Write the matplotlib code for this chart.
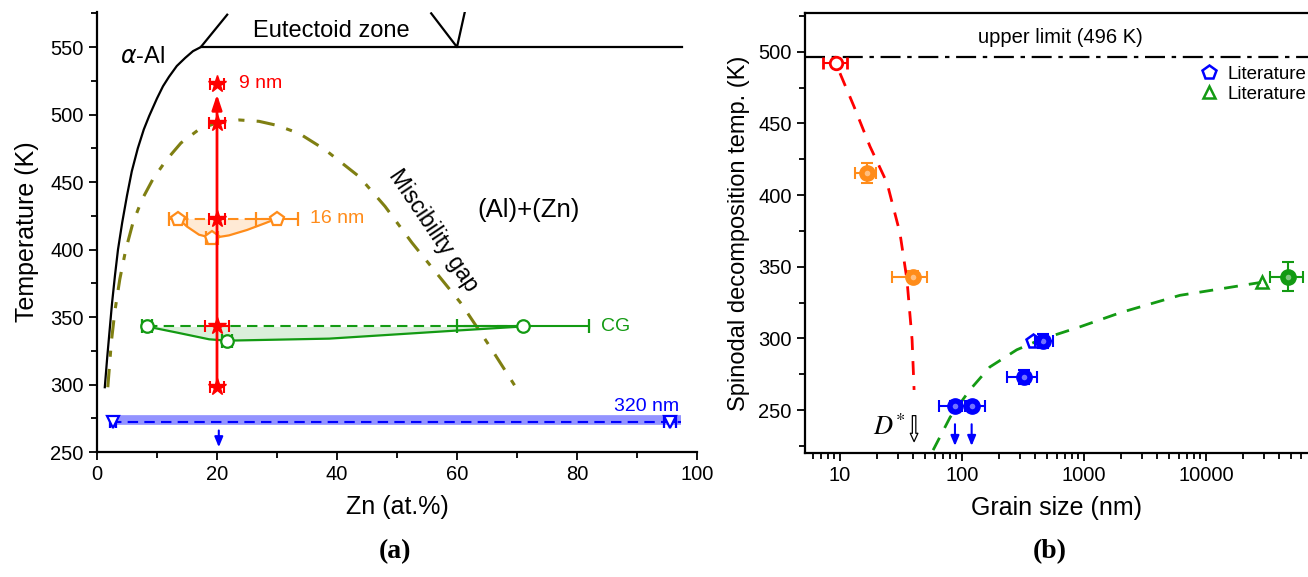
import numpy as np
import matplotlib
matplotlib.use("Agg")
import matplotlib.pyplot as plt
from matplotlib.ticker import MultipleLocator, LogLocator, FixedLocator, FixedFormatter, NullFormatter
from matplotlib.lines import Line2D

plt.rcParams['font.family'] = ['Liberation Sans', 'DejaVu Sans']
plt.rcParams['mathtext.fontset'] = 'stix'

# ---------------- Panel (a) data ----------------
solvus_zn = [1.3, 1.7, 2.1, 2.5, 3.0, 3.5, 4.2, 5.0, 5.8, 6.8, 7.8, 8.7, 10.0, 11.0, 12.0,
             13.3, 14.7, 16.0, 17.3, 21.7]
solvus_T = [298, 320, 340, 360, 381, 400, 420, 440, 458, 475, 489, 499, 512, 521, 528,
            536, 542, 547, 550, 574]
eutectoid_zn = [17.3, 97.5]
eutectoid_T = [550, 550]
vee_zn = [55.7, 60.0, 61.3]
vee_T = [575, 550, 576]
gap_zn = [1.8, 2.1, 2.4, 3.0, 3.8, 4.8, 6.0, 7.5, 9.3, 11.5, 14.0, 17.0, 20.0, 23.7, 27.0,
          30.0, 33.7, 38.0, 43.7, 48.0, 52.5, 56.5, 60.7, 65.5, 69.8]
gap_T = [298, 315, 332, 355, 378, 400, 420, 437, 452, 466, 479, 489, 494, 496, 495,
         492, 486, 474, 454, 432, 405, 383, 360, 328, 298]

red_zn = [20.0, 20.0, 20.0, 20.0, 20.0]
red_T = [523, 494, 423, 343, 298]
red_xerr = [1.2, 1.3, 1.3, 2.0, 1.2]

or_zn = [13.5, 19.2, 30.0]
or_T = [423, 408.5, 423]
or_xerr = [1.5, 1.0, 3.5]
or_curve_zn = [13.5, 15.0, 17.0, 19.2, 22.0, 25.0, 28.0, 30.0]
or_curve_T = [423, 417, 411, 408.5, 410.5, 414.5, 419.5, 423]

gr_zn = [8.3, 21.7, 71.0]
gr_T = [343, 332.5, 343]
gr_xerr = [0.8, 0.8, 11.0]
gr_curve_zn = [8.3, 13.3, 18.7, 21.7, 38.7, 60.0, 71.0]
gr_curve_T = [343, 338.5, 333.5, 332.5, 334.0, 340.0, 343]

bl_zn = [2.7, 95.5]
bl_T = [272, 272]
bl_xerr = [0.5, 1.0]
bl_band_zn = [2.3, 97.3]

# ---------------- Panel (b) data ----------------
upper_limit = 496
red_d = [9.3]
red_Tb = [492]
red_d_err = [[2.0], [2.1]]
red_fit_d = [10, 13, 17.6, 24.3, 31, 35.4, 39, 40.5]
red_fit_T = [485, 462, 434, 408.5, 373.6, 341, 299, 264]

or_d = [16.6, 39.7]
or_Tb = [415.5, 343]
or_d_err = [[3.4, 13.1], [3.1, 11.9]]
or_T_err = [7, 4]

bl_d = [87.6, 120, 322, 457]
bl_Tb = [253, 253, 273, 298]
bl_d_err = [[23, 20, 90, 60], [18, 34, 92, 99]]
bl_T_err = [3, 3, 5, 5]
lit_bl_d = [380]
lit_bl_T = [298]

gr_d = [47000]
gr_Tb = [343]
gr_d_err = [[13600], [15500]]
gr_T_err = [10]
lit_gr_d = [28800]
lit_gr_T = [339]
gr_fit_d = [58, 80, 116, 169, 281, 437, 925, 2000, 6100, 28000]
gr_fit_T = [222, 245, 264, 280, 292, 299, 308, 318, 330, 339]

arrow_d = [87.6, 120]
dstar_d = 40.5

RED = '#ff0000'
ORANGE = '#ff8c1a'
GREEN = '#139a13'
BLUE = '#0000ff'
OLIVE = '#7f7f12'

fig = plt.figure(figsize=(13.08, 5.77), dpi=100)
W, H = 1308, 577

# ================= Panel (a) =================
ax1 = fig.add_axes([97 / W, 1 - 452 / H, 600 / W, 440 / H])
ax1.set_xlim(0, 100)
ax1.set_ylim(250, 576)

ax1.plot(solvus_zn, solvus_T, color='black', lw=1.6)
ax1.plot(eutectoid_zn, eutectoid_T, color='black', lw=1.6)
ax1.plot(vee_zn, vee_T, color='black', lw=1.6)
ax1.plot(gap_zn, gap_T, color=OLIVE, lw=2.2, dashes=(6, 4, 2, 4))

# blue 320 nm
ax1.plot(bl_band_zn, [273.5, 273.5], color='#9393ff', lw=7, solid_capstyle='butt')
ax1.plot(bl_band_zn, [272, 272], color=BLUE, lw=1.5, dashes=(5, 3))
ax1.errorbar(bl_zn, bl_T, xerr=bl_xerr, fmt='v', ms=9, mfc='white', mec=BLUE, mew=1.6,
             ecolor=BLUE, elinewidth=1.5, capsize=4, capthick=1.5)
ax1.annotate('', xy=(20.3, 251.5), xytext=(20.3, 268),
             arrowprops=dict(arrowstyle='-|>,head_width=0.25,head_length=0.6', color=BLUE, lw=1.5))
ax1.text(97, 284, '320 nm', color=BLUE, fontsize=14, ha='right', va='center')

# green CG
ax1.fill_between(gr_curve_zn, gr_curve_T, 343, color=GREEN, alpha=0.15, lw=0)
ax1.plot([gr_zn[0], gr_zn[2]], [343, 343], color=GREEN, lw=1.5, dashes=(5, 3))
ax1.plot(gr_curve_zn, gr_curve_T, color=GREEN, lw=1.6)
ax1.errorbar(gr_zn, gr_T, xerr=gr_xerr, fmt='o', ms=9, mfc='white', mec=GREEN, mew=1.6,
             ecolor=GREEN, elinewidth=1.5, capsize=5, capthick=1.5)
ax1.text(84, 343, 'CG', color=GREEN, fontsize=14, ha='left', va='center')

# orange 16 nm
ax1.fill_between(or_curve_zn, or_curve_T, 423, color=ORANGE, alpha=0.18, lw=0)
ax1.plot([or_zn[0], or_zn[2]], [423, 423], color=ORANGE, lw=1.5, dashes=(5, 3))
ax1.plot(or_curve_zn, or_curve_T, color=ORANGE, lw=1.6)
ax1.errorbar(or_zn, or_T, xerr=or_xerr, fmt='p', ms=10, mfc='white', mec=ORANGE, mew=1.6,
             ecolor=ORANGE, elinewidth=1.5, capsize=5, capthick=1.5)
ax1.text(35.5, 423, '16 nm', color=ORANGE, fontsize=14, ha='left', va='center')

# red 9 nm
ax1.annotate('', xy=(20, 517), xytext=(20, 298),
             arrowprops=dict(arrowstyle='-|>,head_width=0.3,head_length=0.9', color=RED, lw=2.0))
ax1.errorbar(red_zn, red_T, xerr=red_xerr, fmt='*', ms=13, mfc=RED, mec=RED,
             ecolor=RED, elinewidth=1.5, capsize=4, capthick=1.5)
ax1.text(23.7, 523, '9 nm', color=RED, fontsize=14, ha='left', va='center')

# annotations
ax1.text(39, 562, 'Eutectoid zone', fontsize=17, ha='center', va='center')
ax1.text(7.5, 542.5, r'$\alpha$-Al', fontsize=17, ha='center', va='center',
         math_fontfamily='dejavusans')
ax1.text(56, 414, 'Miscibility gap', fontsize=16.5, ha='center', va='center', rotation=-56,
         rotation_mode='anchor')
ax1.text(72, 429, '(Al)+(Zn)', fontsize=18.5, ha='center', va='center')

ax1.spines['top'].set_visible(False)
ax1.spines['right'].set_visible(False)
for s in ['left', 'bottom']:
    ax1.spines[s].set_linewidth(1.6)
ax1.xaxis.set_major_locator(MultipleLocator(20))
ax1.xaxis.set_minor_locator(MultipleLocator(10))
ax1.set_yticks([250, 300, 350, 400, 450, 500, 550])
ax1.yaxis.set_minor_locator(MultipleLocator(25))
ax1.tick_params(which='both', direction='out', width=1.3, labelsize=14.5)
ax1.tick_params(which='major', length=6)
ax1.tick_params(which='minor', length=4)
ax1.set_xlabel('Zn (at.%)', fontsize=18, labelpad=8)
ax1.set_ylabel('Temperature (K)', fontsize=18, labelpad=8)

# ================= Panel (b) =================
ax2 = fig.add_axes([805 / W, 1 - 453 / H, 503 / W, 440 / H])
ax2.set_xscale('log')
ax2.set_xlim(5.17, 68500)
ax2.set_ylim(220, 527)

ax2.axhline(upper_limit, color='black', lw=1.6, dashes=(9, 3, 2, 3))
ax2.text(640, 510, 'upper limit (496 K)', fontsize=14.5, ha='center', va='center')

ax2.plot(red_fit_d, red_fit_T, color=RED, lw=2.0, dashes=(5, 4))
ax2.plot(gr_fit_d, gr_fit_T, color=GREEN, lw=2.0, dashes=(5, 4))

ax2.errorbar(red_d, red_Tb, xerr=red_d_err, fmt='o', ms=9, mfc='white', mec=RED, mew=2,
             ecolor=RED, elinewidth=1.5, capsize=4, capthick=1.5)


def shaded(ax, x, y, xerr, yerr, color):
    ax.errorbar(x, y, xerr=xerr, yerr=yerr, fmt='o', ms=11, mfc=color, mec=color,
                ecolor=color, elinewidth=1.5, capsize=4, capthick=1.5, zorder=3)
    ax.plot(x, y, 'o', ms=4, color='white', alpha=0.45, mew=0, zorder=4)


shaded(ax2, or_d, or_Tb, or_d_err, or_T_err, ORANGE)
shaded(ax2, bl_d, bl_Tb, bl_d_err, bl_T_err, BLUE)
shaded(ax2, gr_d, gr_Tb, gr_d_err, gr_T_err, GREEN)
ax2.plot(lit_bl_d, lit_bl_T, 'p', ms=10, mfc='none', mec=BLUE, mew=1.8, zorder=5)
ax2.plot(lit_gr_d, lit_gr_T, '^', ms=9, mfc='none', mec=GREEN, mew=1.8, zorder=5)

for d in arrow_d:
    ax2.annotate('', xy=(d, 223), xytext=(d, 242),
                 arrowprops=dict(arrowstyle='-|>,head_width=0.25,head_length=0.6', color=BLUE, lw=1.5))
ax2.annotate('', xy=(dstar_d, 226), xytext=(dstar_d, 248),
             arrowprops=dict(arrowstyle='simple,head_width=0.55,head_length=0.6,tail_width=0.25',
                             fc='white', ec='black', lw=0.9))
ax2.text(25.5, 238, r'$D^{*}$', fontsize=19, ha='center', va='center')

handles = [Line2D([], [], ls='none', marker='p', ms=10, mfc='none', mec=BLUE, mew=1.8),
           Line2D([], [], ls='none', marker='^', ms=9, mfc='none', mec=GREEN, mew=1.8)]
ax2.legend(handles, ['Literature', 'Literature'], loc='upper left', bbox_to_anchor=(0.785, 0.88),
           frameon=False, fontsize=13.5, handlelength=1.0, handletextpad=0.5, labelspacing=0.15,
           borderpad=0, borderaxespad=0)

ax2.spines['right'].set_visible(False)
for s in ['left', 'bottom', 'top']:
    ax2.spines[s].set_linewidth(1.6)
ax2.xaxis.set_major_locator(FixedLocator([10, 100, 1000, 10000]))
ax2.xaxis.set_major_formatter(FixedFormatter(['10', '100', '1000', '10000']))
ax2.xaxis.set_minor_locator(LogLocator(base=10, subs=np.arange(2, 10) * 1.0, numticks=20))
ax2.xaxis.set_minor_formatter(NullFormatter())
ax2.set_yticks([250, 300, 350, 400, 450, 500])
ax2.yaxis.set_minor_locator(MultipleLocator(25))
ax2.tick_params(which='both', direction='out', width=1.3, labelsize=14.5)
ax2.tick_params(which='major', length=6)
ax2.tick_params(which='minor', length=4)
ax2.set_xlabel('Grain size (nm)', fontsize=18, labelpad=8)
ax2.set_ylabel('Spinodal decomposition temp. (K)', fontsize=17, labelpad=6)

fig.text(395 / W, 1 - 552 / H, '(a)', fontsize=20, fontweight='bold', family='Liberation Serif',
         ha='center', va='center')
fig.text(1050 / W, 1 - 552 / H, '(b)', fontsize=20, fontweight='bold', family='Liberation Serif',
         ha='center', va='center')

fig.savefig('out.png', dpi=100)
